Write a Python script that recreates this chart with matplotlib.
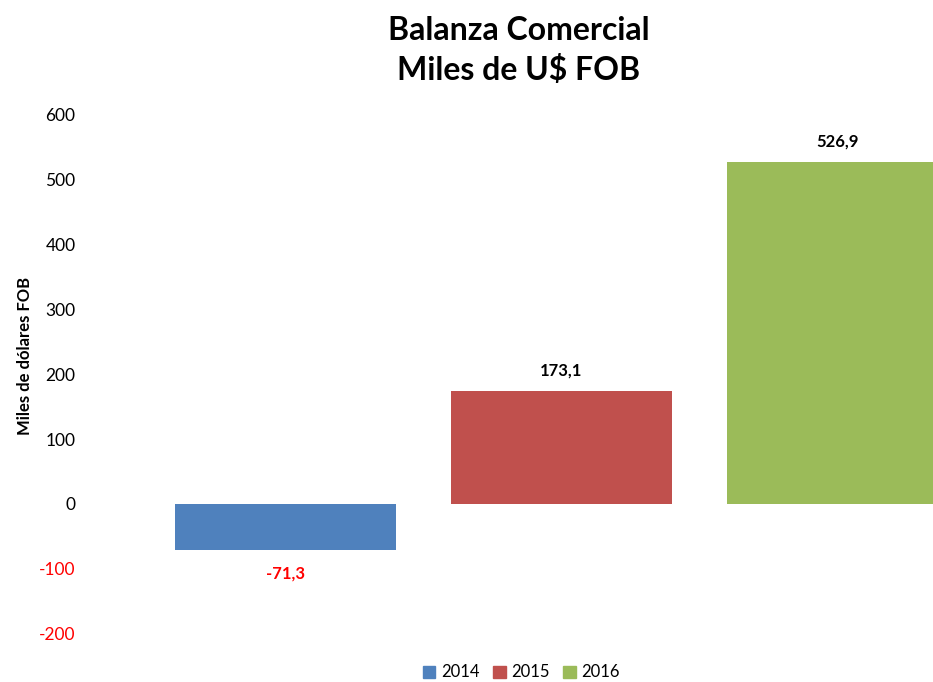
import matplotlib.pyplot as plt
from matplotlib.patches import Patch

years = ["2014", "2015", "2016"]
balance = [-71.3, 173.1, 526.9]
labels = ["-71,3", "173,1", "526,9"]
colors = ["#4F81BD", "#C0504D", "#9BBB59"]
yticks = [-200, -100, 0, 100, 200, 300, 400, 500, 600]

plt.rcParams["font.family"] = ["Lato", "DejaVu Sans"]

fig = plt.figure(figsize=(9.33, 6.82), dpi=100)
ax = fig.add_axes([0.1286, 0.0704, 0.8714, 0.7624])

x = list(range(len(years)))
bars = ax.bar(x, balance, width=0.8, color=colors)

for xi, val, lab in zip(x, balance, labels):
    if val < 0:
        ax.annotate(lab, (xi, val), xytext=(0, -11), textcoords="offset points",
                    ha="center", va="top", fontsize=12, fontweight="bold", color="red")
    else:
        ax.annotate(lab, (xi, val), xytext=(0, 9), textcoords="offset points",
                    ha="center", va="bottom", fontsize=12, fontweight="bold", color="black")

ax.set_xlim(-0.6, 2.346)
ax.set_ylim(-200, 600)
ax.set_yticks(yticks)
ax.set_yticklabels([str(t) for t in yticks], fontsize=12.5)
for t, lab in zip(yticks, ax.get_yticklabels()):
    if t < 0:
        lab.set_color("red")
ax.tick_params(axis="y", length=0, pad=32)
ax.set_xticks([])
for s in ax.spines.values():
    s.set_visible(False)

fig.text(0.027, 0.478, "Miles de dólares FOB", rotation=90, ha="center", va="center",
         fontsize=12, fontweight="bold")

fig.text(0.556, 0.956, "Balanza Comercial", ha="center", va="center",
         fontsize=23, fontweight="bold")
fig.text(0.556, 0.897, "Miles de U$ FOB", ha="center", va="center",
         fontsize=23, fontweight="bold")

handles = [Patch(color=c, label=y) for c, y in zip(colors, years)]
fig.legend(handles=handles, loc="center", bbox_to_anchor=(0.559, 0.014), ncol=3,
           frameon=False, fontsize=12, handlelength=0.75, handleheight=0.75,
           handletextpad=0.35, columnspacing=0.8)

fig.savefig("out.png", dpi=100)
